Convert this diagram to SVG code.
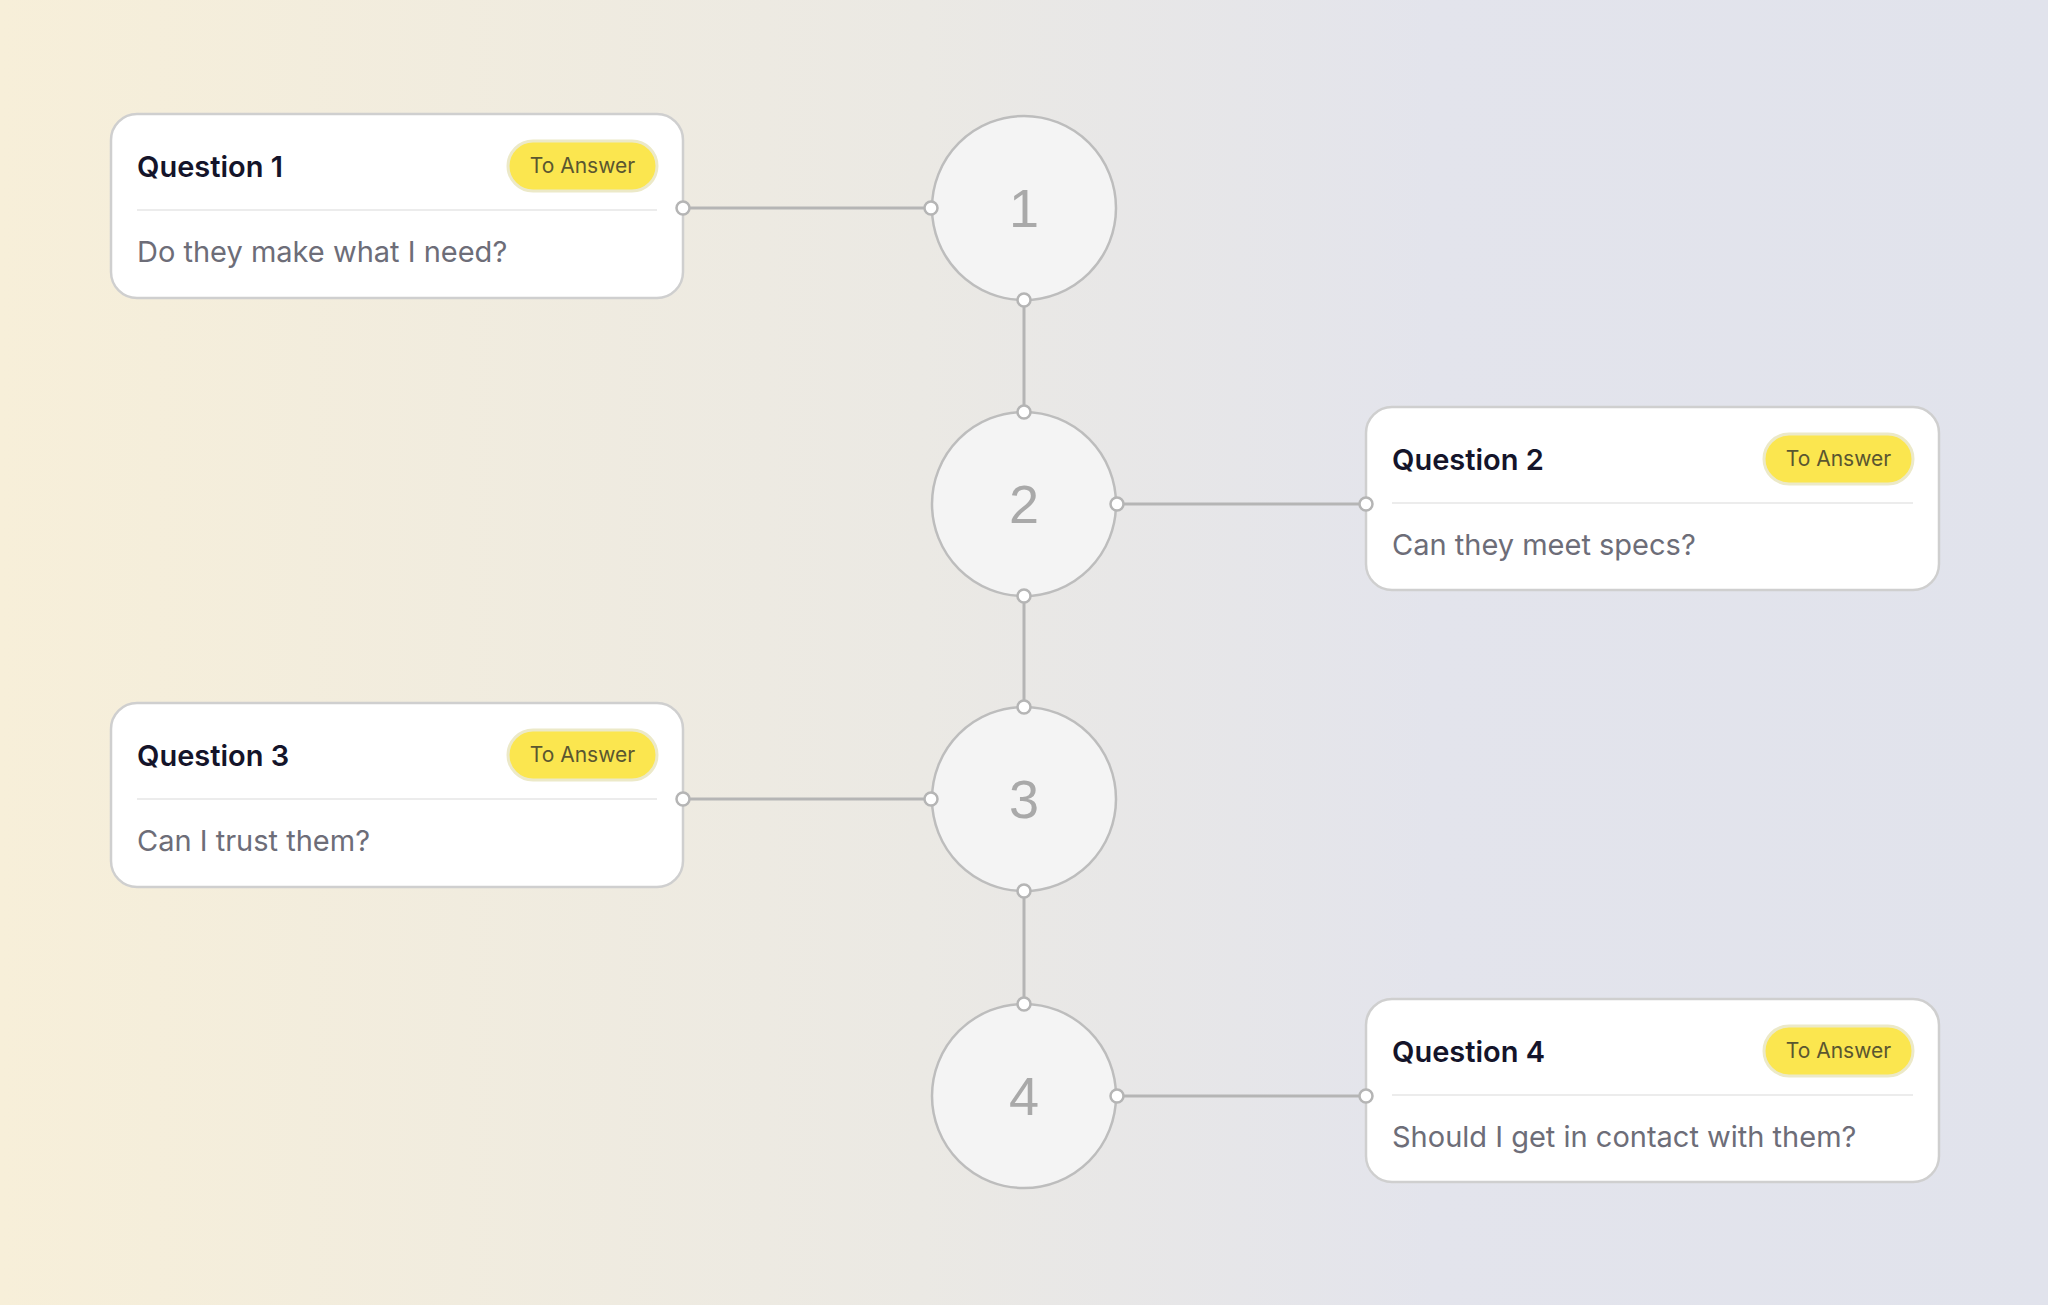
<svg xmlns="http://www.w3.org/2000/svg" width="2048" height="1305" viewBox="0 0 2048 1305">
<defs>
<linearGradient id="bg" x1="0" y1="0" x2="1" y2="0">
<stop offset="0" stop-color="#f7efd9"/>
<stop offset="0.45" stop-color="#ebe9e4"/>
<stop offset="0.7" stop-color="#e3e4ec"/>
<stop offset="1" stop-color="#e1e3ec"/>
</linearGradient>
<style>
.card{fill:#fff;stroke:#cfcfcf;stroke-width:2.5}
.title{font-family:Inter,"Liberation Sans",sans-serif;font-size:29px;font-weight:600;fill:#14142a}
.body{font-family:Inter,"Liberation Sans",sans-serif;font-size:29px;fill:#6d6d78}
.badge{fill:#fbe64f;stroke:#ece9c8;stroke-width:3}
.btext{font-family:Inter,"Liberation Sans",sans-serif;font-size:21px;fill:#5a5630;text-anchor:middle}
.div{stroke:#ececec;stroke-width:2}
.ring{fill:#f4f4f4;stroke:#bdbdbd;stroke-width:2.5}
.num{font-family:"Liberation Sans",Arial,sans-serif;font-size:54px;fill:#a9a9a9;text-anchor:middle}
.line{stroke:#b5b5b5;stroke-width:3;fill:none}
.dot{fill:#fff;stroke:#b5b5b5;stroke-width:2.5}
</style>
</defs>
<rect width="2048" height="1305" fill="url(#bg)"/>
<g id="connectors">
<line class="line" x1="683" y1="208" x2="931" y2="208"/>
<line class="line" x1="1024" y1="300" x2="1024" y2="412"/>
<line class="line" x1="1117" y1="504" x2="1366" y2="504"/>
<line class="line" x1="1024" y1="596" x2="1024" y2="707"/>
<line class="line" x1="683" y1="799" x2="931" y2="799"/>
<line class="line" x1="1024" y1="891" x2="1024" y2="1004"/>
<line class="line" x1="1117" y1="1096" x2="1366" y2="1096"/>
</g>
<g id="circle1"><circle class="ring" cx="1024" cy="208" r="92"/><text class="num" x="1024" y="227">1</text></g>
<g id="circle2"><circle class="ring" cx="1024" cy="504" r="92"/><text class="num" x="1024" y="523">2</text></g>
<g id="circle3"><circle class="ring" cx="1024" cy="799" r="92"/><text class="num" x="1024" y="818">3</text></g>
<g id="circle4"><circle class="ring" cx="1024" cy="1096" r="92"/><text class="num" x="1024" y="1115">4</text></g>
<g id="card1">
<rect class="card" x="111" y="114" width="572" height="184" rx="26"/>
<text class="title" x="137" y="177">Question 1</text>
<rect class="badge" x="508" y="141" width="149" height="50" rx="25"/>
<text class="btext" x="582.5" y="173">To Answer</text>
<line class="div" x1="137" y1="210" x2="657" y2="210"/>
<text class="body" x="137" y="262">Do they make what I need?</text>
</g>
<g id="card2">
<rect class="card" x="1366" y="407" width="573" height="183" rx="26"/>
<text class="title" x="1392" y="470">Question 2</text>
<rect class="badge" x="1764" y="434" width="149" height="50" rx="25"/>
<text class="btext" x="1838.5" y="466">To Answer</text>
<line class="div" x1="1392" y1="503" x2="1913" y2="503"/>
<text class="body" x="1392" y="555">Can they meet specs?</text>
</g>
<g id="card3">
<rect class="card" x="111" y="703" width="572" height="184" rx="26"/>
<text class="title" x="137" y="766">Question 3</text>
<rect class="badge" x="508" y="730" width="149" height="50" rx="25"/>
<text class="btext" x="582.5" y="762">To Answer</text>
<line class="div" x1="137" y1="799" x2="657" y2="799"/>
<text class="body" x="137" y="851">Can I trust them?</text>
</g>
<g id="card4">
<rect class="card" x="1366" y="999" width="573" height="183" rx="26"/>
<text class="title" x="1392" y="1062">Question 4</text>
<rect class="badge" x="1764" y="1026" width="149" height="50" rx="25"/>
<text class="btext" x="1838.5" y="1058">To Answer</text>
<line class="div" x1="1392" y1="1095" x2="1913" y2="1095"/>
<text class="body" x="1392" y="1147">Should I get in contact with them?</text>
</g>
<g id="dots">
<circle class="dot" cx="683" cy="208" r="6.5"/><circle class="dot" cx="931" cy="208" r="6.5"/>
<circle class="dot" cx="1024" cy="300" r="6.5"/><circle class="dot" cx="1024" cy="412" r="6.5"/>
<circle class="dot" cx="1117" cy="504" r="6.5"/><circle class="dot" cx="1366" cy="504" r="6.5"/>
<circle class="dot" cx="1024" cy="596" r="6.5"/><circle class="dot" cx="1024" cy="707" r="6.5"/>
<circle class="dot" cx="683" cy="799" r="6.5"/><circle class="dot" cx="931" cy="799" r="6.5"/>
<circle class="dot" cx="1024" cy="891" r="6.5"/><circle class="dot" cx="1024" cy="1004" r="6.5"/>
<circle class="dot" cx="1117" cy="1096" r="6.5"/><circle class="dot" cx="1366" cy="1096" r="6.5"/>
</g>
</svg>
